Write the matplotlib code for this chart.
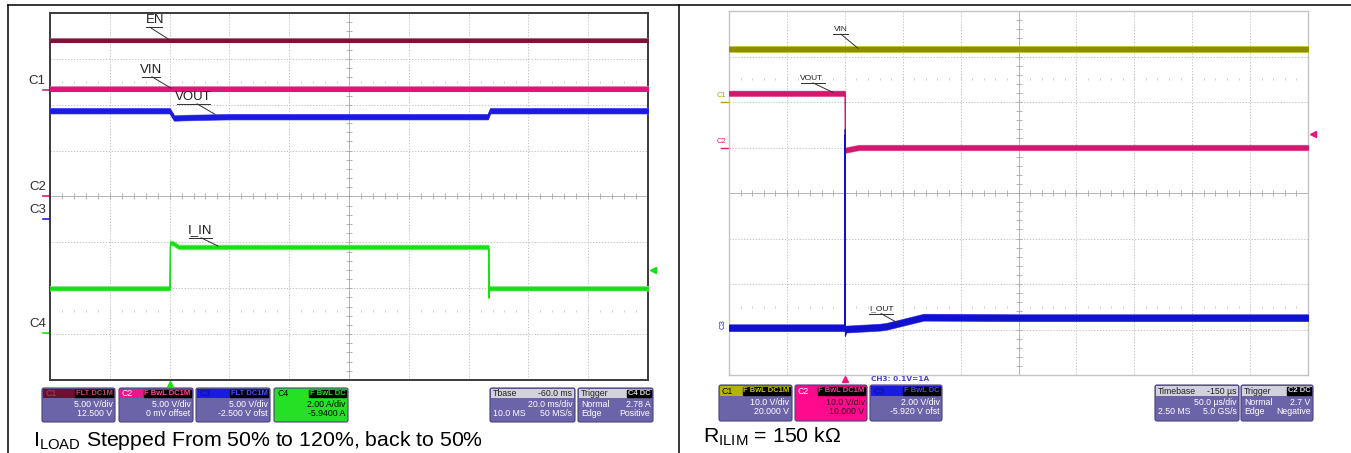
import numpy as np
import matplotlib
matplotlib.use("Agg")
import matplotlib.pyplot as plt
from matplotlib import font_manager
from matplotlib.patches import FancyBboxPatch, Rectangle
from matplotlib.transforms import blended_transform_factory

W, H = 1351, 453

# ---------------- data ----------------
# Left scope, 20 ms/div: time in ms from left screen edge, level in divisions from bottom
en_t = [0, 200]
en_v = [7.41, 7.41]
vin_t = [0, 200]
vin_v = [6.35, 6.35]
vout_t = [0, 40, 41.5, 45, 60, 146.4, 147.2, 200]
vout_v = [5.87, 5.87, 5.71, 5.72, 5.74, 5.74, 5.87, 5.87]
iin_t = [0, 40, 40.1, 41.2, 43, 146.6, 146.65, 146.9, 200]
iin_v = [2.0, 2.0, 2.99, 2.98, 2.90, 2.90, 1.83, 2.0, 2.0]

# Right scope, 50 us/div: time in us from left screen edge
vin2_t = [0, 500]
vin2_v = [7.16, 7.16]
vout2_t = [0, 100, 100.1, 104, 112, 500]
vout2_v = [6.19, 6.19, 4.94, 4.96, 5.0, 5.0]
iout_t = [0, 99.9, 100, 100.1, 101, 130, 136, 168, 250, 500]
iout_v = [1.04, 1.04, 5.35, 0.93, 1.01, 1.05, 1.07, 1.27, 1.26, 1.26]

# channel offset markers (div from bottom)
left_ch_names = ["C1", "C2", "C3", "C4"]
left_ch_levels = [6.32, 4.0, 3.5, 1.03]
right_ch_names = ["C1", "C2", "C3"]
right_ch_levels = [6.0, 5.0, 1.0]

left_trig_time, left_trig_level = 40, 2.40
right_trig_time, right_trig_level = 100, 5.30

# info box texts
left_chan_tags = ["FLT DC1M", "F BwL DC1M", "FLT DC1M", "F BwL DC"]
left_chan_scale = ["5.00 V/div", "5.00 V/div", "5.00 V/div", "2.00 A/div"]
left_chan_offset = ["12.500 V", "0 mV offset", "-2.500 V ofst", "-5.9400 A"]
left_tbase = ["Tbase", "-60.0 ms", "20.0 ms/div", "10.0 MS", "50 MS/s"]
left_trig = ["Trigger", "C4 DC", "Normal", "2.78 A", "Edge", "Positive"]

right_chan_tags = ["F BwL DC1M", "F BwL DC1M", "F BwL DC"]
right_chan_scale = ["10.0 V/div", "10.0 V/div", "2.00 V/div"]
right_chan_offset = ["20.000 V", "10.000 V", "-5.920 V ofst"]
right_tbase = ["Timebase", "-150 µs", "50.0 µs/div", "2.50 MS", "5.0 GS/s"]
right_trig = ["Trigger", "C2 DC", "Normal", "2.7 V", "Edge", "Negative"]

caption_left = r"I$_{\mathrm{LOAD}}$ Stepped From 50% to 120%, back to 50%"
caption_right = r"R$_{\mathrm{ILIM}}$ = 150 kΩ"

# ---------------- style ----------------
names = {f.name for f in font_manager.fontManager.ttflist}
NARROW = "Liberation Sans Narrow" if "Liberation Sans Narrow" in names else "Liberation Sans"
BOX_FS = 7.3 if NARROW != "Liberation Sans" else 6.3
plt.rcParams["font.family"] = "Liberation Sans"
plt.rcParams["mathtext.fontset"] = "custom"
plt.rcParams["mathtext.rm"] = "Liberation Sans"
plt.rcParams["mathtext.it"] = "Liberation Sans"

BODY = "#6c64a8"


def trace(ax, t, v, half, color, halo=None, halo_half=None):
    t = np.asarray(t, float)
    v = np.asarray(v, float)
    if halo is not None:
        ax.fill_between(t, v - halo_half, v + halo_half, facecolor=halo,
                        edgecolor=halo, lw=0.6, zorder=3)
    ax.fill_between(t, v - half, v + half, facecolor=color, edgecolor=color,
                    lw=0.8, zorder=4)


def scope_grid(ax, xmax, frame_color, frame_lw):
    ax.set_xlim(0, xmax)
    ax.set_ylim(0, 8)
    ax.set_xticks([])
    ax.set_yticks([])
    for s in ax.spines.values():
        s.set_color(frame_color)
        s.set_linewidth(frame_lw)
    dx = xmax / 10
    for i in range(1, 10):
        if i != 5:
            ax.axvline(i * dx, color="#b8b8b8", lw=0.6, ls=(0, (1.5, 2)), zorder=1)
    for j in range(1, 8):
        if j != 4:
            ax.axhline(j, color="#b8b8b8", lw=0.6, ls=(0, (1.5, 2)), zorder=1)
    ax.axvline(5 * dx, color="#a8a8a8", lw=0.6, zorder=1)
    ax.axhline(4, color="#a8a8a8", lw=0.6, zorder=1)
    xs = np.arange(1, 50) * dx / 5
    ys = np.arange(1, 40) / 5
    ax.plot(xs, np.full_like(xs, 4.0), ls="none", marker="|", ms=4, mew=0.6,
            color="#a8a8a8", zorder=1)
    ax.plot(np.full_like(ys, 5 * dx), ys, ls="none", marker="_", ms=4, mew=0.6,
            color="#a8a8a8", zorder=1)
    for yy in (1.5, 6.5):
        ax.plot(xs, np.full_like(xs, yy), ls="none", marker="|", ms=2, mew=0.6,
                color="#c4c4c4", zorder=1)


def trace_label(ax, text, tx, ty, ux0, ux1, uy, lx, tip, fs):
    ax.text(tx, ty, text, ha="center", va="center", fontsize=fs,
            family=NARROW, color="#202020", zorder=6)
    ax.plot([ux0, ux1], [uy, uy], color="#303030", lw=0.7, zorder=6)
    ax.plot([lx, tip[0]], [uy, tip[1]], color="#303030", lw=0.7, zorder=6)


def info_box(bg, x0, x1, y0, yh, y1, head_col, head_left, head_left_col,
             head_right, head_right_col, tags, tag_col, lines, text_col,
             body_col=BODY, edge="#4a4280"):
    bg.add_patch(FancyBboxPatch((x0, y0), x1 - x0, y1 - y0,
                                boxstyle="round,pad=0,rounding_size=2",
                                fc=body_col, ec=edge, lw=0.8))
    bg.add_patch(Rectangle((x0 + 1, y0 + 1), x1 - x0 - 2, yh - y0 - 1,
                           fc=head_col, ec="none"))
    ym = (y0 + yh) / 2 + 0.5
    bg.text(x0 + 3, ym, head_left, color=head_left_col, fontsize=BOX_FS,
            family=NARROW, va="center", ha="left")
    if tags:
        bg.text(x1 - 2.5, ym, tags, color=tag_col, fontsize=BOX_FS - 0.8,
                family=NARROW, va="center", ha="right", fontweight="bold",
                bbox=dict(boxstyle="square,pad=0.05", fc="black", ec="black"))
    if head_right:
        bg.text(x1 - 2.5, ym, head_right, color=head_right_col,
                fontsize=BOX_FS, family=NARROW, va="center", ha="right")
    ys = [yh + 9, yh + 18.5]
    for (left, right), yy in zip(lines, ys):
        if left:
            bg.text(x0 + 3, yy, left, color=text_col, fontsize=BOX_FS,
                    family=NARROW, va="baseline", ha="left")
        if right:
            bg.text(x1 - 2.5, yy, right, color=text_col, fontsize=BOX_FS,
                    family=NARROW, va="baseline", ha="right")


fig = plt.figure(figsize=(W / 100, H / 100), dpi=100)
bg = fig.add_axes([0, 0, 1, 1], zorder=0)
bg.set_xlim(0, W)
bg.set_ylim(H, 0)
bg.axis("off")

# table borders
bg.plot([8, W], [5, 5], color="black", lw=1.1)
bg.plot([8, 8], [5, H], color="black", lw=1.1)
bg.plot([679, 679], [5, H], color="black", lw=1.1)

# ---------------- left scope ----------------
ax1 = fig.add_axes([50 / W, 1 - 380 / H, 598 / W, 367 / H], zorder=2)
scope_grid(ax1, 200, "#3a3a3a", 1.4)
trace(ax1, en_t, en_v, 0.032, "#7a1438", "#b06080", 0.045)
trace(ax1, vin_t, vin_v, 0.045, "#e0157a", "#f07ab0", 0.06)
trace(ax1, vout_t, vout_v, 0.045, "#1a1ae0", "#6a6af0", 0.06)
trace(ax1, iin_t, iin_v, 0.03, "#14e014", "#8cf08c", 0.05)

trace_label(ax1, "EN", 35.1, 7.84, 32.1, 37.5, 7.69, 33.4, (40.1, 7.41), 9.5)
trace_label(ax1, "VIN", 33.8, 6.76, 30.8, 36.8, 6.61, 34.1, (40.5, 6.36), 9.5)
trace_label(ax1, "VOUT", 47.8, 6.17, 42.5, 53.5, 6.02, 49.2, (55.2, 5.79), 9.5)
trace_label(ax1, "I_IN", 50.2, 3.26, 46.5, 54.2, 3.10, 50.5, (56.2, 2.92), 9.5)

tr1 = blended_transform_factory(ax1.transAxes, ax1.transData)
left_ch_colors = ["#c03060", "#e0157a", "#1a1ae0", "#14e014"]
for name, lev, col in zip(left_ch_names, left_ch_levels, left_ch_colors):
    ax1.text(-0.007, lev + 0.07, name, transform=tr1, ha="right", va="bottom",
             fontsize=9.5, family=NARROW, color="#303030", clip_on=False)
    ax1.plot([-0.011, 0.0], [lev, lev], transform=tr1, color=col, lw=1.2,
             clip_on=False)
ax1.plot([left_trig_time], [-0.09], marker="^", ms=5, color="#14e014",
         clip_on=False, zorder=6)
ax1.plot([1.008], [left_trig_level], transform=tr1, marker="<", ms=5,
         color="#14e014", clip_on=False, zorder=6)

# ---------------- right scope ----------------
ax2 = fig.add_axes([729 / W, 1 - 375 / H, 579 / W, 364 / H], zorder=2)
scope_grid(ax2, 500, "#c4c4c4", 1.0)
trace(ax2, vin2_t, vin2_v, 0.04, "#8e8e00", "#c4c440", 0.06)
trace(ax2, vout2_t, vout2_v, 0.045, "#d4166e", "#ec8ab8", 0.06)
trace(ax2, iout_t, iout_v, 0.06, "#1010d0", "#5a5ae8", 0.075)

trace_label(ax2, "VIN", 96.3, 7.60, 89.8, 102.8, 7.49, 96.7, (111.4, 7.18), 6)
trace_label(ax2, "VOUT", 71.7, 6.52, 62.2, 82.9, 6.42, 72.5, (89.8, 6.21), 6)
trace_label(ax2, "I_OUT", 131.3, 1.46, 120.9, 141.6, 1.35, 131.3, (146, 1.14), 6)

tr2 = blended_transform_factory(ax2.transAxes, ax2.transData)
right_ch_colors = ["#a8a800", "#e0157a", "#2020d0"]
for name, lev, col in zip(right_ch_names, right_ch_levels, right_ch_colors):
    if name == "C3":
        ax2.text(-0.011, lev + 0.12, name, transform=tr2, ha="center",
                 va="center", rotation=90, fontsize=5.5, color=col,
                 clip_on=False)
    else:
        ax2.text(-0.005, lev + 0.06, name, transform=tr2, ha="right",
                 va="bottom", fontsize=5.5, color=col, clip_on=False)
        ax2.plot([-0.014, 0.0], [lev, lev], transform=tr2, color=col, lw=1.0,
                 clip_on=False)
ax2.plot([right_trig_time], [-0.09], marker="^", ms=5, color="#f0157a",
         clip_on=False, zorder=6)
ax2.plot([1.008], [right_trig_level], transform=tr2, marker="<", ms=5,
         color="#f0157a", clip_on=False, zorder=6)
ax2.text(0.245, -0.011, "CH3: 0.1V=1A", transform=ax2.transAxes, ha="left",
         va="center", fontsize=5.3, fontweight="bold", color="#4848d0",
         family="DejaVu Sans", clip_on=False)

# ---------------- info boxes ----------------
lx = [(42, 115), (119, 193), (196, 270), (274, 348)]
l_head = ["#6b1030", "#ee148a", "#1a1ae6", "#26e026"]
l_name_col = ["#b04060", "#ffffff", "#0a0a90", "#000000"]
l_tag_col = ["#c04a6a", "#ff4aa0", "#4a4aff", "#26e026"]
for i in range(4):
    body = "#26e026" if i == 3 else BODY
    tc = "#000000" if i == 3 else "white"
    info_box(bg, lx[i][0], lx[i][1], 388, 398, 422, l_head[i],
             left_ch_names[i], l_name_col[i], None, None, left_chan_tags[i],
             l_tag_col[i], [(None, left_chan_scale[i]), (None, left_chan_offset[i])],
             tc, body_col=body)
info_box(bg, 490, 575, 388, 398, 422, "#d2d2dc", left_tbase[0], "#202020",
         left_tbase[1], "#202020", None, None,
         [(None, left_tbase[2]), (left_tbase[3], left_tbase[4])], "white")
info_box(bg, 578, 653, 388, 398, 422, "#d2d2dc", left_trig[0], "#202020",
         None, None, left_trig[1], "#d8d8d8",
         [(left_trig[2], left_trig[3]), (left_trig[4], left_trig[5])], "white")

rx = [(719, 792), (795, 867), (870, 942)]
r_head = ["#b4b400", "#ff0a8c", "#1a1ae6"]
r_name_col = ["#000000", "#ffffff", "#0a0a90"]
r_tag_col = ["#c8c800", "#ff3a9a", "#4a4aff"]
for i in range(3):
    body = "#ff0a8c" if i == 1 else BODY
    tc = "#300018" if i == 1 else "white"
    info_box(bg, rx[i][0], rx[i][1], 385, 396, 421, r_head[i],
             right_ch_names[i], r_name_col[i], None, None, right_chan_tags[i],
             r_tag_col[i], [(None, right_chan_scale[i]), (None, right_chan_offset[i])],
             tc, body_col=body)
info_box(bg, 1155, 1239, 385, 396, 421, "#d2d2dc", right_tbase[0], "#202020",
         right_tbase[1], "#202020", None, None,
         [(None, right_tbase[2]), (right_tbase[3], right_tbase[4])], "white")
info_box(bg, 1241, 1313, 385, 396, 421, "#d2d2dc", right_trig[0], "#202020",
         None, None, right_trig[1], "#d8d8d8",
         [(right_trig[2], right_trig[3]), (right_trig[4], right_trig[5])], "white")

# ---------------- captions ----------------
bg.text(33, 446, caption_left, fontsize=15.3, va="baseline", ha="left",
        color="black")
bg.text(703, 443, caption_right, fontsize=15.3, va="baseline", ha="left",
        color="black")

fig.savefig("out.png", dpi=100)
